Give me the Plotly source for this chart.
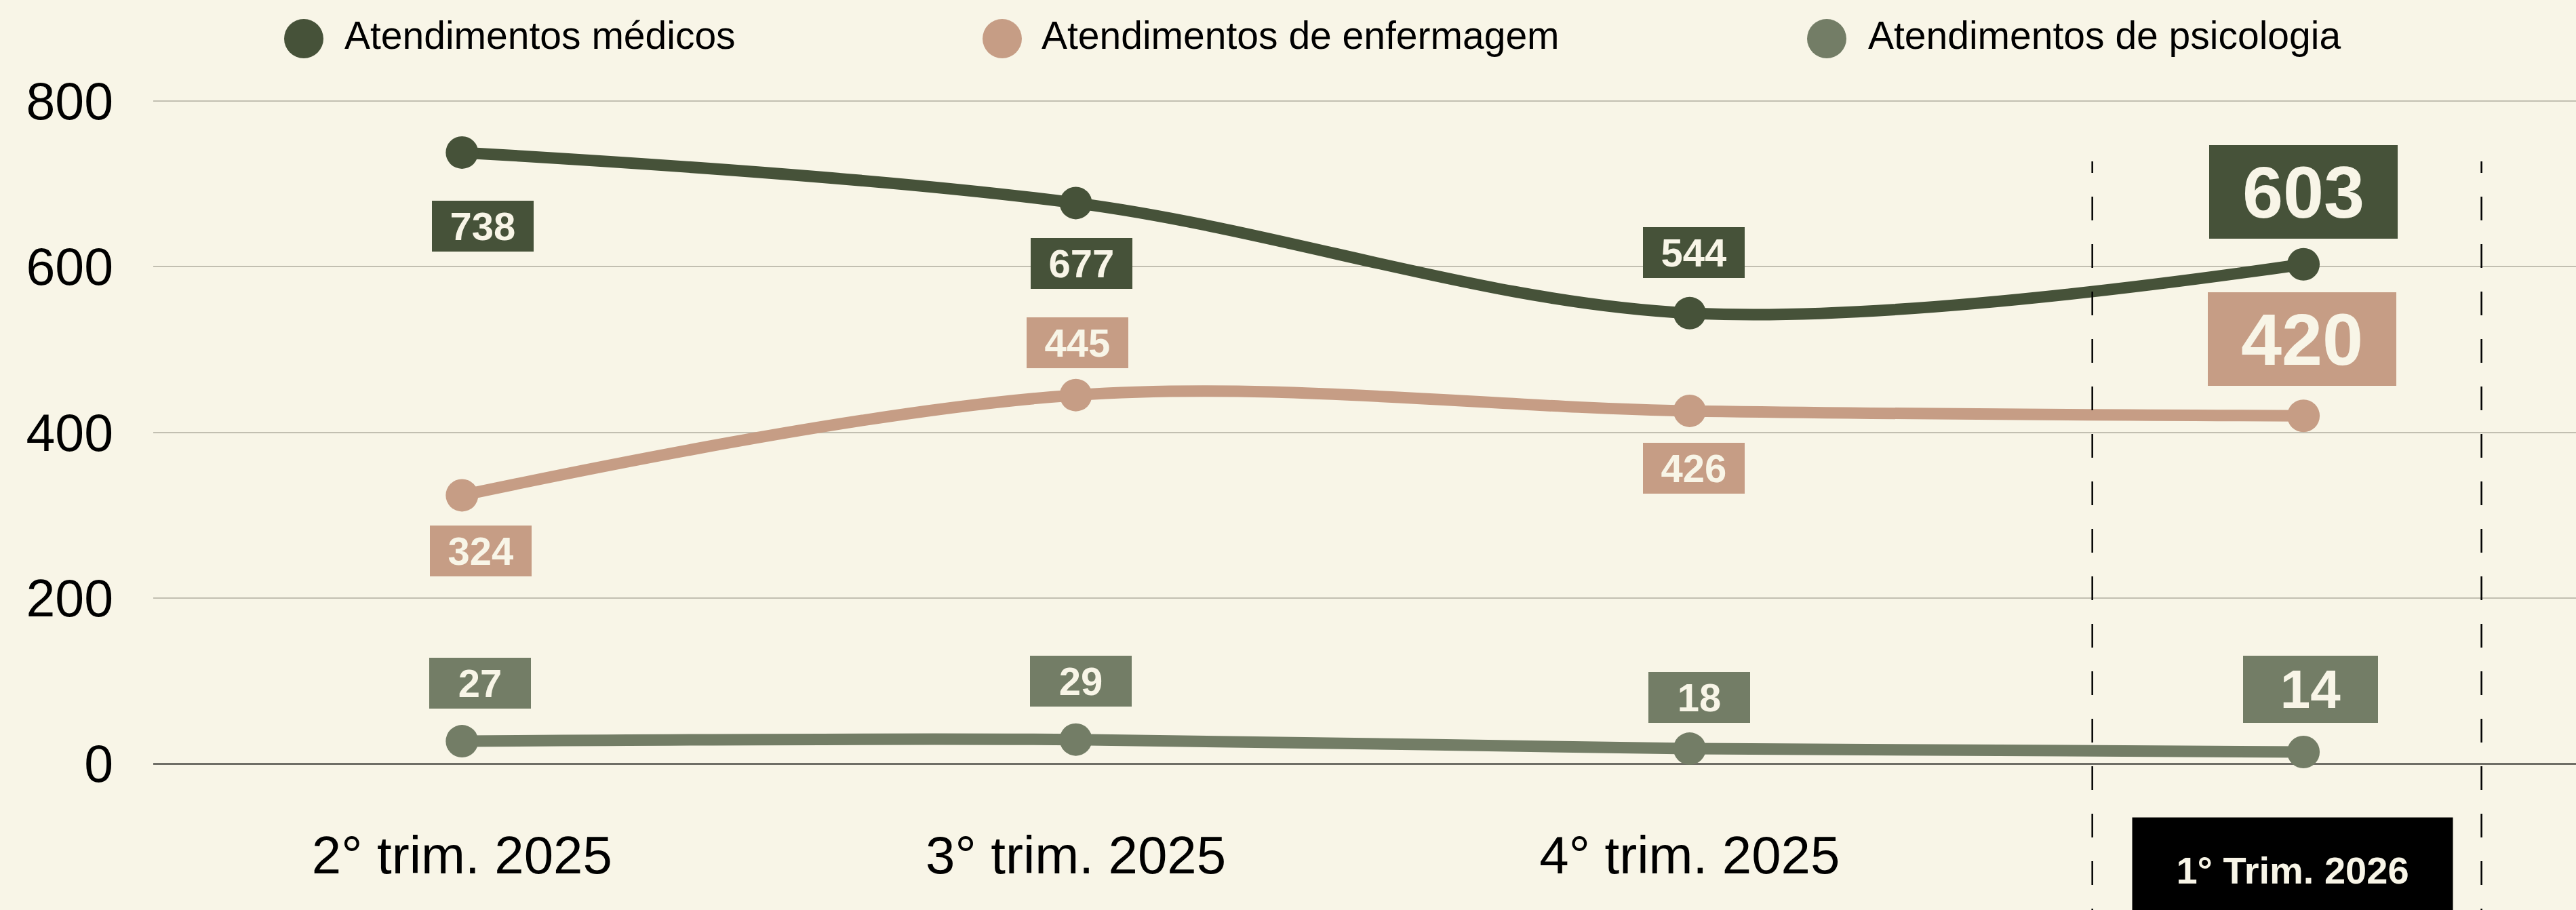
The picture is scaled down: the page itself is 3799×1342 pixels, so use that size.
import plotly.graph_objects as go

# ---------------- data ----------------
categories = ["2° trim. 2025", "3° trim. 2025", "4° trim. 2025", "1° Trim. 2026"]
series_names = ["Atendimentos médicos", "Atendimentos de enfermagem", "Atendimentos de psicologia"]
medicos = [738, 677, 544, 603]
enfermagem = [324, 445, 426, 420]
psicologia = [27, 29, 18, 14]
y_ticks = [0, 200, 400, 600, 800]

# ---------------- styles ----------------
BG = "#F8F5E7"
CREAM = "#F8F5E7"
C_MED = "#465239"
C_ENF = "#C69D85"
C_PSI = "#737D66"
FONT = "Liberation Sans, Arial, sans-serif"

W, H = 3799, 1342
ML, MR, MT, MB = 226, 0, 100, 150
PW, PH = W - ML - MR, H - MT - MB


def px_to_paper_x(px):
    return (px - ML) / PW


def px_to_paper_y(py):
    return (H - MB - py) / PH


series = [
    (series_names[0], medicos, C_MED),
    (series_names[1], enfermagem, C_ENF),
    (series_names[2], psicologia, C_PSI),
]

# label offsets in pixels (dx, dy up) per series/point
label_offsets = [
    [(31, -109), (8, -89), (6, 89), (0, 107)],
    [(28, -82), (2, 77), (6, -85), (-2, 113)],
    [(27, 86), (7, 86), (14, 76), (10, 92)],
]

fig = go.Figure()

for name, vals, col in reversed(series):
    fig.add_trace(go.Scatter(
        x=categories, y=vals, name=name, mode="lines+markers",
        line=dict(color=col, width=17, shape="spline", smoothing=1),
        marker=dict(color=col, size=48),
        showlegend=False, hoverinfo="skip",
    ))

annotations = []
for si, (name, vals, col) in enumerate(series):
    for i, v in enumerate(vals):
        dx, dy = label_offsets[si][i]
        last = i == len(vals) - 1
        if last and si < 2:
            fs, bw, bh = 108, 278, 138
        elif last:
            fs, bw, bh = 80, 199, 99
        else:
            fs, bw, bh = 58, 150, 75
        annotations.append(dict(
            x=categories[i], y=v, xref="x", yref="y",
            text=f"<b>{v}</b>", showarrow=False,
            xshift=dx, yshift=dy,
            font=dict(family=FONT, size=fs, color=CREAM),
            bgcolor=col, width=bw, height=bh, borderpad=0, borderwidth=0,
            xanchor="center", yanchor="middle", align="center", valign="middle",
        ))

# highlighted last-category label
annotations.append(dict(
    x=categories[3], y=px_to_paper_y(1283), xref="x", yref="paper",
    xshift=-16, text="<b>" + categories[3] + "</b>", showarrow=False,
    font=dict(family=FONT, size=56, color=CREAM),
    bgcolor="#000000", width=472, height=154, borderpad=0,
    xanchor="center", yanchor="middle", valign="middle",
))

# custom legend
legend_circle_x = [448, 1478, 2694]
legend_text_x = [506, 1534, 2753]
shapes = []
for (name, vals, col), cx, tx in zip(series, legend_circle_x, legend_text_x):
    shapes.append(dict(
        type="circle", xref="paper", yref="paper",
        xsizemode="pixel", ysizemode="pixel",
        xanchor=px_to_paper_x(cx), yanchor=px_to_paper_y(57),
        x0=-29, x1=29, y0=-29, y1=29,
        fillcolor=col, line=dict(width=0),
    ))
    annotations.append(dict(
        x=px_to_paper_x(tx), y=px_to_paper_y(52), xref="paper", yref="paper",
        text=name, showarrow=False, xanchor="left", yanchor="middle",
        font=dict(family=FONT, size=57, color="#000000"),
    ))

# dashed highlight lines around last category
dash_pattern = "17px,35px," + ",".join(["35px"] * 40)
for xd in [2.656, 3.29]:
    shapes.append(dict(
        type="line", xref="x", yref="paper",
        x0=xd, x1=xd, y0=px_to_paper_y(238), y1=px_to_paper_y(1400),
        line=dict(color="#000000", width=2.5, dash=dash_pattern),
        layer="above",
    ))

fig.update_layout(
    width=W, height=H,
    margin=dict(l=ML, r=MR, t=MT, b=MB, pad=0),
    paper_bgcolor=BG, plot_bgcolor=BG,
    showlegend=False,
    annotations=annotations,
    shapes=shapes,
    xaxis=dict(
        type="category", categoryarray=categories,
        range=[-0.503, 3.444],
        tickvals=categories[:3], ticktext=categories[:3],
        showgrid=False, zeroline=False, showline=False, ticks="",
        tickfont=dict(family=FONT, size=78, color="#000000"),
        ticklabelstandoff=17,
    ),
    yaxis=dict(
        range=[-54, 840.3], tickvals=y_ticks,
        showgrid=True, gridcolor="#C2BFB1", gridwidth=2,
        zeroline=True, zerolinecolor="#6F6E66", zerolinewidth=3,
        showline=False, ticks="",
        tickfont=dict(family=FONT, size=77, color="#000000"),
        ticklabelstandoff=58,
    ),
)

post = (
    "document.body.style.margin='0';"
    "document.body.style.overflow='hidden';"
    "document.body.style.background='" + BG + "';"
)
fig.write_html("out.html", post_script=post, config={"displayModeBar": False})
